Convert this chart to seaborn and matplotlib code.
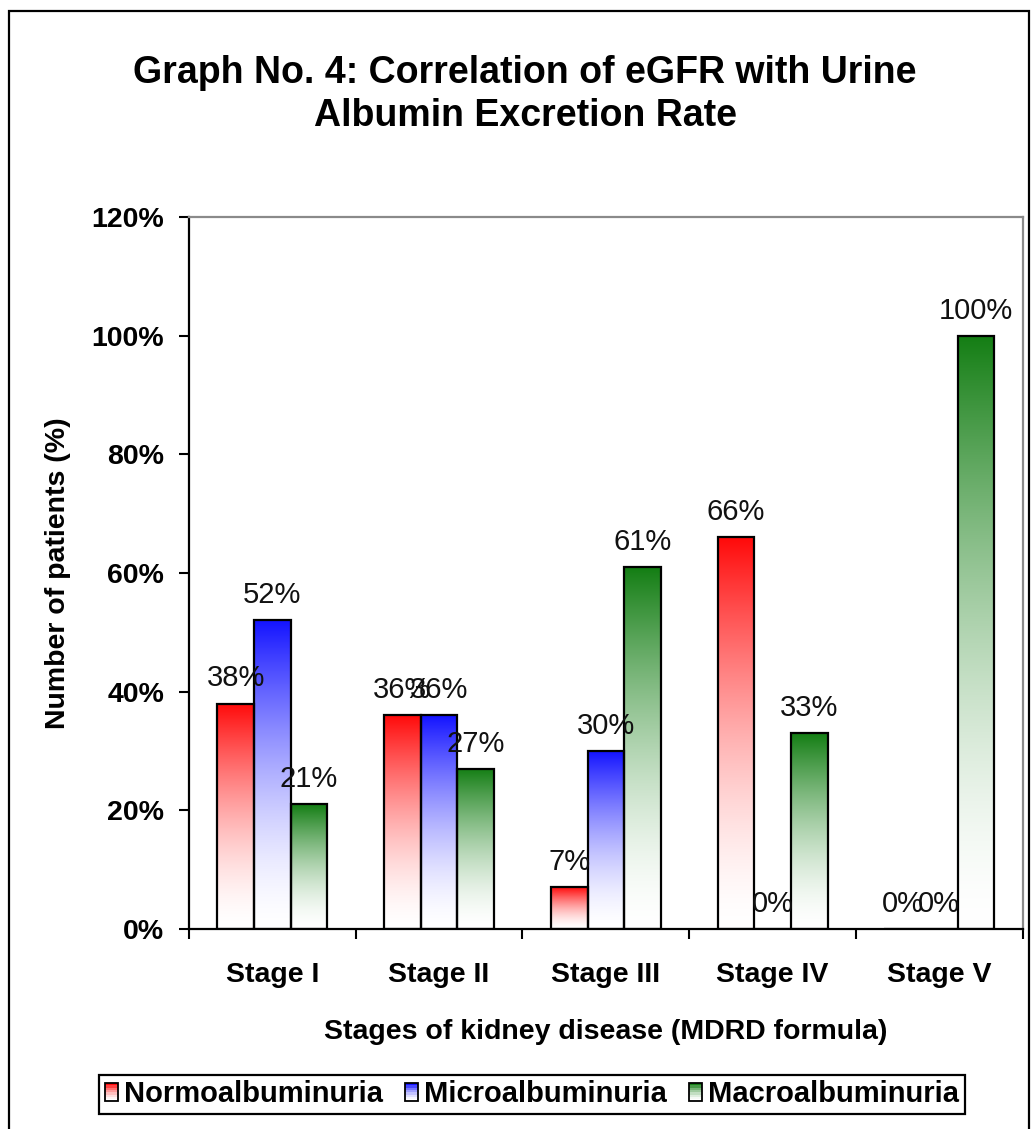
import numpy as np
import pandas as pd
import seaborn as sns
import matplotlib.pyplot as plt
from matplotlib.colors import to_rgb
from matplotlib.patches import Rectangle, Patch
from matplotlib.legend_handler import HandlerBase

# Chart values (percent of patients)
stages = ['Stage I', 'Stage II', 'Stage III', 'Stage IV', 'Stage V']
groups = ['Normoalbuminuria', 'Microalbuminuria', 'Macroalbuminuria']
normo = [38, 36, 7, 66, 0]
micro = [52, 36, 30, 0, 0]
macro = [21, 27, 61, 33, 100]
yticks = [0, 20, 40, 60, 80, 100, 120]

colors = {'Normoalbuminuria': '#ff0a0a',
          'Microalbuminuria': '#1414ff',
          'Macroalbuminuria': '#147e14'}

data = pd.DataFrame({
    'Stage': stages * 3,
    'Group': [g for g in groups for _ in stages],
    'Value': normo + micro + macro,
})

sns.set_style('white')
plt.rcParams['font.family'] = ['Liberation Sans', 'DejaVu Sans']
plt.rcParams['text.color'] = 'black'
plt.rcParams['axes.labelcolor'] = 'black'
plt.rcParams['xtick.color'] = 'black'
plt.rcParams['ytick.color'] = 'black'

fig = plt.figure(figsize=(10.31, 11.29), dpi=100)
ax = fig.add_axes([189 / 1031, 1 - 929 / 1129, (1022.7 - 189) / 1031, (929 - 217) / 1129])

sns.barplot(data=data, x='Stage', y='Value', hue='Group', palette=colors,
            width=0.66, gap=0, saturation=1, ax=ax, errorbar=None, legend=False)


def gradient(color, n=256, gamma=1.6):
    top = np.array(to_rgb(color))
    f = (np.linspace(0, 1, n) ** gamma)[:, None]
    return (1 - f) * np.ones(3) + f * top


# replace flat fills with a vertical white-to-colour gradient
for cont, vals in zip(ax.containers, [normo, micro, macro]):
    for p in cont:
        x, w, h = p.get_x(), p.get_width(), p.get_height()
        col = p.get_facecolor()[:3]
        if h > 0:
            img = gradient(col)[:, None, :]
            ax.imshow(img, extent=[x, x + w, 0, h], origin='lower',
                      aspect='auto', zorder=1.5, interpolation='bilinear')
        p.set_facecolor('none')
        p.set_edgecolor('black')
        p.set_linewidth(1.6)
        p.set_zorder(2)
    ax.bar_label(cont, labels=[f'{v}%' for v in vals], padding=8,
                 fontsize=21, color='#111111')

ax.set_xlim(-0.5, 4.5)
ax.set_ylim(0, 120)
ax.set_yticks(yticks)
ax.set_yticklabels([f'{v}%' for v in yticks], fontsize=20.5, fontweight='bold')
ax.set_xticks(range(len(stages)))
ax.set_xticklabels(stages, fontsize=20.5, fontweight='bold')
ax.set_xticks(np.arange(-0.5, 5, 1), minor=True)
ax.tick_params(axis='x', which='major', length=0, pad=24)
ax.tick_params(axis='x', which='minor', length=7, width=1.5, color='black', direction='out', bottom=True)
ax.tick_params(axis='y', length=7, width=1.5, color='black', direction='out', left=True, pad=11)

for side in ['left', 'bottom']:
    ax.spines[side].set_color('black')
    ax.spines[side].set_linewidth(1.6)
for side in ['top', 'right']:
    ax.spines[side].set_color('#8a8a8a')
    ax.spines[side].set_linewidth(1.6)

ax.set_xlabel('Stages of kidney disease (MDRD formula)', fontsize=20.5, fontweight='bold')
ax.set_ylabel('Number of patients (%)', fontsize=20.5, fontweight='bold')
ax.xaxis.set_label_coords(0.5, -0.127)
ax.yaxis.set_label_coords(-0.142, 0.5)

fig.text(525 / 1031, 1 - 55 / 1129,
         'Graph No. 4: Correlation of eGFR with Urine\nAlbumin Excretion Rate',
         ha='center', va='top', fontsize=27, fontweight='bold', linespacing=1.25)


class GradientHandler(HandlerBase):
    def create_artists(self, legend, orig_handle, xdescent, ydescent,
                       width, height, fontsize, trans):
        cols = gradient(orig_handle.get_facecolor()[:3], n=8)
        out = []
        n = len(cols)
        for i, c in enumerate(cols):
            out.append(Rectangle((-xdescent, -ydescent + i * height / n), width, height / n,
                                 facecolor=c, edgecolor='none', transform=trans))
        out.append(Rectangle((-xdescent, -ydescent), width, height, fill=False,
                             edgecolor='black', linewidth=1.3, transform=trans))
        return out


handles = [Patch(facecolor=colors[g], label=g) for g in groups]
leg = fig.legend(handles=handles, loc='center', bbox_to_anchor=(532 / 1031, 1 - 1094.5 / 1129),
                 ncol=3, prop={'weight': 'bold', 'size': 21},
                 handler_map={Patch: GradientHandler()},
                 handlelength=0.45, handleheight=0.6, handletextpad=0.2,
                 columnspacing=0.75, borderpad=0.2, fancybox=False, framealpha=1)
leg.get_frame().set_edgecolor('black')
leg.get_frame().set_linewidth(1.6)

# outer chart border (bottom edge falls outside the image)
fig.patches.append(Rectangle((9 / 1031, -0.05), (1029 - 9) / 1031, 1.05 - 11 / 1129,
                             transform=fig.transFigure, fill=False,
                             edgecolor='black', linewidth=1.6, clip_on=False))

fig.savefig('out.png', dpi=100)
